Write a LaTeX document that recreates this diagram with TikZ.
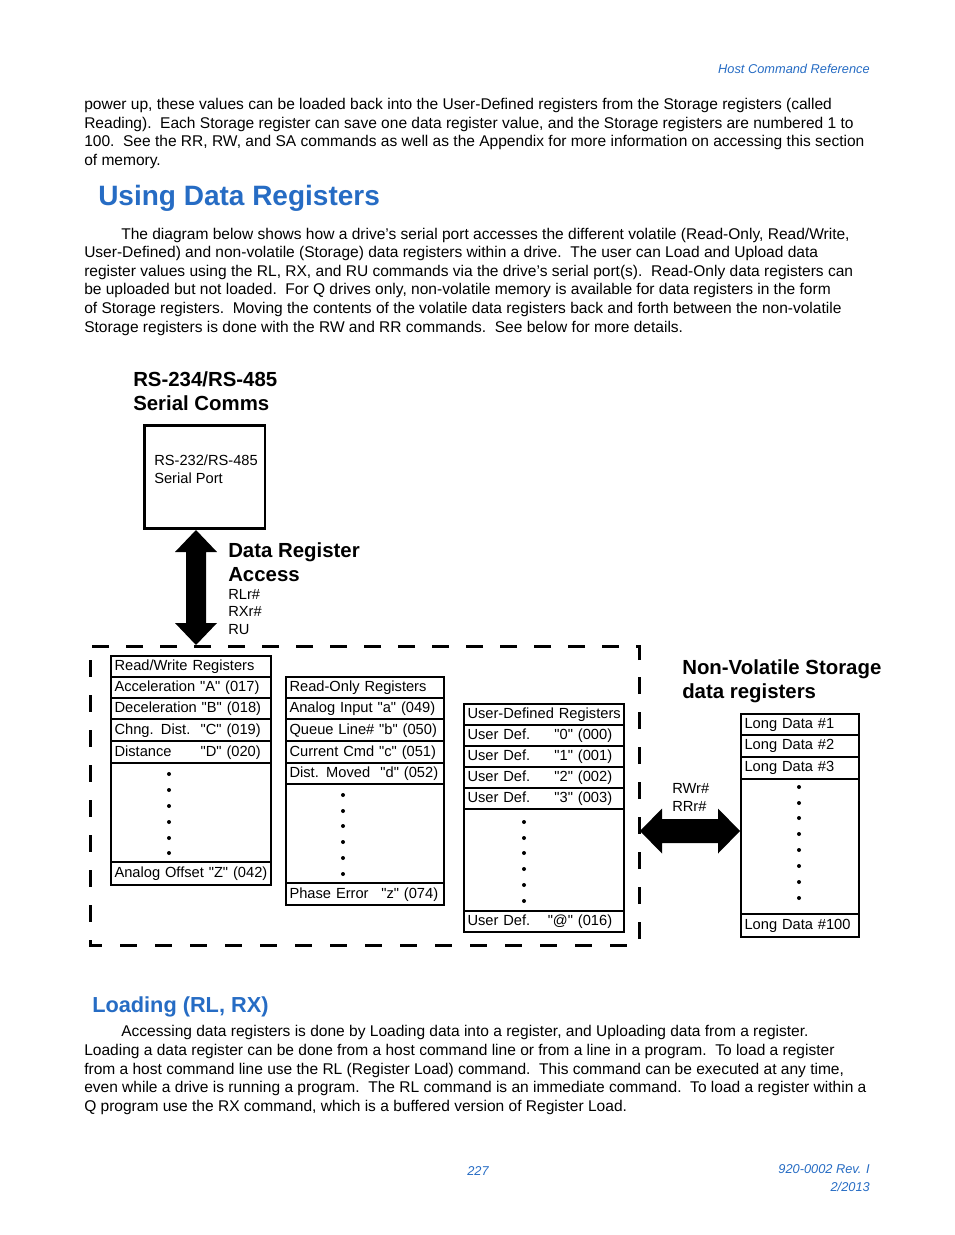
\documentclass[tikz,border=0pt]{standalone}
\usepackage{fontspec}
\setmainfont{Liberation Sans}[Ligatures=TeXOff]
\usetikzlibrary{calc}
\definecolor{hblue}{RGB}{38,108,196}
\newcommand\cl[1]{\makebox[\linewidth][l]{#1}}
\begin{document}
\begin{tikzpicture}[x=0.75pt,y=-0.75pt,
  txt/.style={anchor=base west, inner sep=0pt, font=\fontsize{11.65}{13}\selectfont},
  lbl/.style={anchor=base west, inner sep=0pt, font=\fontsize{11}{13}\selectfont},
  hd/.style={anchor=base west, inner sep=0pt, font=\fontsize{15.3}{18}\selectfont\bfseries},
  bluehd/.style={anchor=base west, inner sep=0pt, text=hblue, font=\bfseries},
  blueit/.style={inner sep=0pt, text=hblue, font=\fontsize{9.6}{12}\selectfont\itshape},
  cell/.style={draw, line width=1.8pt, anchor=north west, inner xsep=2.5pt, inner ysep=0pt,
    align=left, minimum height=15.75pt, font=\fontsize{11}{13}\selectfont},
  rw/.style={cell, text width=115pt},
  ro/.style={cell, text width=113.5pt},
  ud/.style={cell, text width=115pt},
  ld/.style={cell, text width=83.5pt},
  dot/.style={fill=black},
  frame/.style={line width=2.25pt, dash pattern=on 12.75pt off 13.5pt},
  frametop/.style={line width=2.25pt, dash pattern=on 12.75pt off 12.75pt},
  bigarrow/.style={fill=black}
]
\useasboundingbox[fill=white] (0,0) rectangle (954,1235);

% header
\node[blueit, anchor=base east] (hdr) at (870,73) {Host Command Reference};

% paragraph 1
\node[txt] (p1a) at (84,109) {power up, these values can be loaded back into the User-Defined registers from the Storage registers (called};
\node[txt] (p1b) at (84,128) {Reading).\ \ Each Storage register can save one data register value, and the Storage registers are numbered 1 to};
\node[txt] (p1c) at (84,146) {100.\ \ See the RR, RW, and SA commands as well as the Appendix for more information on accessing this section};
\node[txt] (p1d) at (84,165) {of memory.};

\node[bluehd, font=\fontsize{21}{24}\selectfont\bfseries] (h1) at (98,205) {Using Data Registers};

% paragraph 2
\node[txt] (p2a) at (121,239) {The diagram below shows how a drive’s serial port accesses the different volatile (Read-Only, Read/Write,};
\node[txt] (p2b) at (84,257) {User-Defined) and non-volatile (Storage) data registers within a drive.\ \ The user can Load and Upload data};
\node[txt] (p2c) at (84,276) {register values using the RL, RX, and RU commands via the drive’s serial port(s).\ \ Read-Only data registers can};
\node[txt] (p2d) at (84,294) {be uploaded but not loaded.\ \ For Q drives only, non-volatile memory is available for data registers in the form};
\node[txt] (p2e) at (84,313) {of Storage registers.\ \ Moving the contents of the volatile data registers back and forth between the non-volatile};
\node[txt] (p2f) at (84,332) {Storage registers is done with the RW and RR commands.\ \ See below for more details.};

% serial comms
\node[hd] (t1a) at (133,386) {RS-234/RS-485};
\node[hd] (t1b) at (133,410) {Serial Comms};
\node[draw, line width=2pt, anchor=north west, minimum width=90.5pt, minimum height=77.5pt, inner sep=0pt] (serial) at (143,424) {};
\node[lbl] (s1) at (154,465) {RS-232/RS-485};
\node[lbl] (s2) at (154,483) {Serial Port};

% data register access
\node[hd] (t2a) at (228,557) {Data Register};
\node[hd] (t2b) at (228,581) {Access};
\node[lbl] (c1) at (228,599) {RLr\#};
\node[lbl] (c2) at (228,616) {RXr\#};
\node[lbl] (c3) at (228,634) {RU};

% vertical double arrow
\coordinate (va1) at (196,530);
\coordinate (va2) at (196,645);
\fill[bigarrow] (va1) -- ++(21,22) -- ++(-11,0) -- ($(va2)+(10,-22)$) -- ++(11,0) -- (va2)
  -- ++(-21,-22) -- ++(11,0) -- ($(va1)+(-10,22)$) -- ++(-11,0) -- cycle;

% dashed frame
\coordinate (ftl) at (90,646);
\coordinate (fbr) at (639,945);
\draw[frametop] (639,660) -- (fbr |- ftl) -- (ftl);
\draw[frame] (90,660) -- (ftl |- fbr) -- (fbr) -- (639,662);

% Read/Write registers
\node[rw, minimum height=15.75pt] (rw0) at (110,655) {\cl{Read/Write Registers}};
\node[rw, minimum height=15.75pt] (rw1) at (110,676) {\cl{Acceleration "A" (017)}};
\node[rw, minimum height=15.75pt] (rw2) at (110,697) {\cl{Deceleration "B" (018)}};
\node[rw, minimum height=16.5pt] (rw3) at (110,718) {\cl{Chng. Dist.\hfill"C" (019)\hspace{5.3pt}}};
\node[rw, minimum height=16.5pt] (rw4) at (110,740) {\cl{Distance\hfill"D" (020)\hspace{5.3pt}}};
\node[rw, minimum height=74.25pt] (rw5) at (110,762) {};
\node[rw, minimum height=17.25pt] (rw6) at (110,861) {\cl{Analog Offset "Z" (042)}};
\foreach \y in {774,790,806,822,838,853} \fill[dot] (169,\y) circle[radius=1.5pt];

% Read-Only registers
\node[ro, minimum height=15.75pt] (ro0) at (285,676) {\cl{Read-Only Registers}};
\node[ro, minimum height=15.75pt] (ro1) at (285,697) {\cl{Analog Input "a" (049)}};
\node[ro, minimum height=16.5pt] (ro2) at (285,718) {\cl{Queue Line\# "b" (050)}};
\node[ro, minimum height=16.5pt] (ro3) at (285,740) {\cl{Current Cmd "c" (051)}};
\node[ro, minimum height=15.75pt] (ro4) at (285,762) {\cl{Dist. Moved\hfill"d" (052)\hspace{2pt}}};
\node[ro, minimum height=74.25pt] (ro5) at (285,783) {};
\node[ro, minimum height=16.5pt] (ro6) at (285,882) {\cl{Phase Error\hfill"z" (074)\hspace{2pt}}};
\foreach \y in {795,811,826,842,858,874} \fill[dot] (343,\y) circle[radius=1.5pt];

% User-Defined registers
\node[ud, minimum height=15.75pt] (ud0) at (463,703) {\cl{User-Defined Registers}};
\node[ud, minimum height=15.75pt] (ud1) at (463,724) {\cl{User Def.\hfill"0" (000)\hspace{6.5pt}}};
\node[ud, minimum height=15.75pt] (ud2) at (463,745) {\cl{User Def.\hfill"1" (001)\hspace{6.5pt}}};
\node[ud, minimum height=15.75pt] (ud3) at (463,766) {\cl{User Def.\hfill"2" (002)\hspace{6.5pt}}};
\node[ud, minimum height=15.75pt] (ud4) at (463,787) {\cl{User Def.\hfill"3" (003)\hspace{6.5pt}}};
\node[ud, minimum height=76.5pt] (ud5) at (463,808) {};
\node[ud, minimum height=15.75pt] (ud6) at (463,910) {\cl{User Def.\hfill"@" (016)\hspace{6.5pt}}};
\foreach \y in {822,838,853,869,885,901} \fill[dot] (524,\y) circle[radius=1.5pt];

% Non-volatile storage
\node[hd] (t3a) at (682,674) {Non-Volatile Storage};
\node[hd] (t3b) at (682,698) {data registers};
\node[ld, minimum height=15.75pt] (ld1) at (740,713) {\cl{Long Data \#1}};
\node[ld, minimum height=16.5pt] (ld2) at (740,734) {\cl{Long Data \#2}};
\node[ld, minimum height=16.5pt] (ld3) at (740,756) {\cl{Long Data \#3}};
\node[ld, minimum height=101.25pt] (ld4) at (740,778) {};
\node[ld, minimum height=17.25pt] (ld5) at (740,913) {\cl{Long Data \#100}};
\foreach \y in {787,803,818,834,850,866,882,898} \fill[dot] (799,\y) circle[radius=1.5pt];

% RW/RR arrow
\node[lbl] (r1) at (672,793) {RWr\#};
\node[lbl] (r2) at (672,811) {RRr\#};
\coordinate (ha1) at (640,831);
\coordinate (ha2) at (ld4.west |- ha1);
\fill[bigarrow] (ha1) -- ++(22,-22.5) -- ++(0,10.5) -- ($(ha2)+(-22,-12)$) -- ++(0,-10.5) -- (ha2)
  -- ++(-22,22.5) -- ++(0,-10.5) -- ($(ha1)+(22,12)$) -- ++(0,10.5) -- cycle;

% Loading section
\node[bluehd, font=\fontsize{16.3}{19}\selectfont\bfseries] (h2) at (92,1012) {Loading (RL, RX)};
\node[txt] (p3a) at (121,1036) {Accessing data registers is done by Loading data into a register, and Uploading data from a register.};
\node[txt] (p3b) at (84,1055) {Loading a data register can be done from a host command line or from a line in a program.\ \ To load a register};
\node[txt] (p3c) at (84,1074) {from a host command line use the RL (Register Load) command.\ \ This command can be executed at any time,};
\node[txt] (p3d) at (84,1092) {even while a drive is running a program.\ \ The RL command is an immediate command.\ \ To load a register within a};
\node[txt] (p3e) at (84,1111) {Q program use the RX command, which is a buffered version of Register Load.};

% footer
\node[blueit, anchor=base] (pg) at (478,1175) {227};
\node[blueit, anchor=base east] (rev) at (870,1173) {920-0002 Rev. I};
\node[blueit, anchor=base east] (dt) at (870,1191) {2/2013};
\end{tikzpicture}
\end{document}
